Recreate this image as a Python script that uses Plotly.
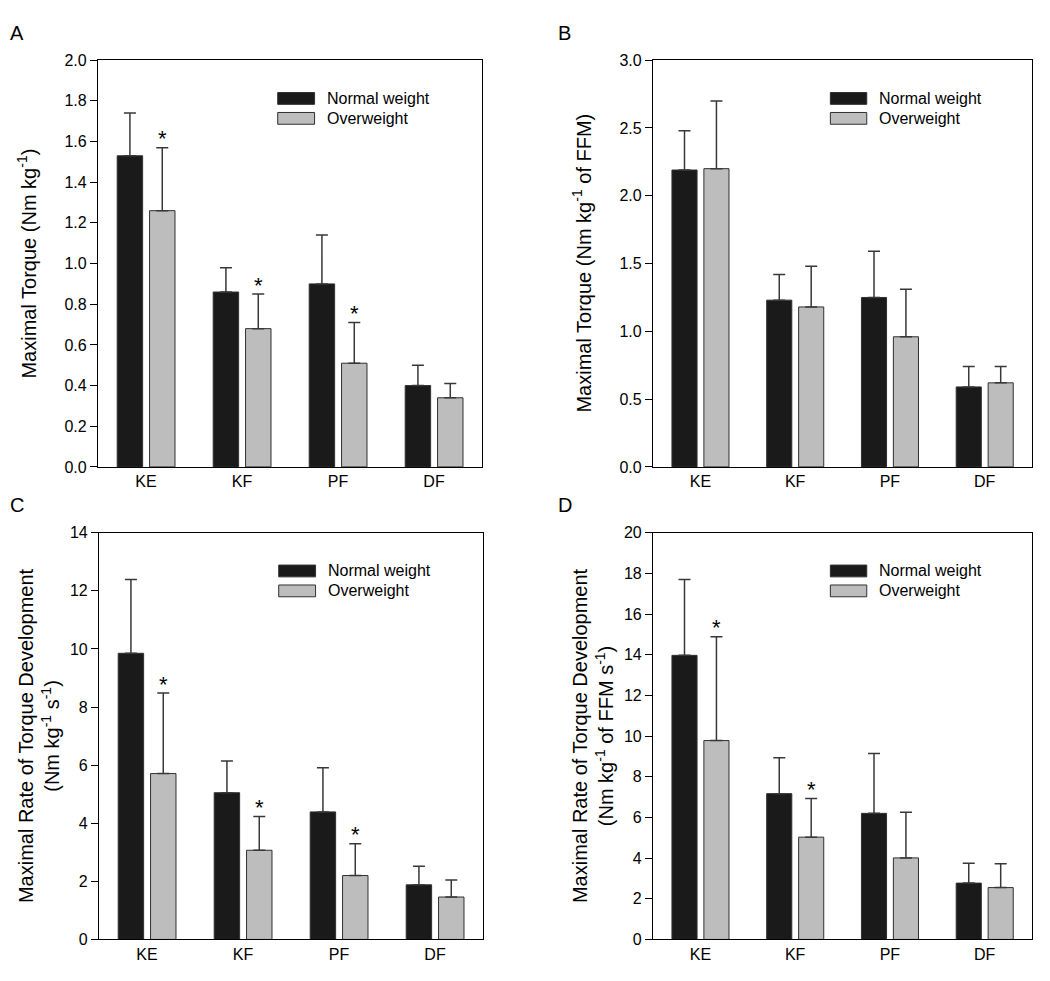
import plotly.graph_objects as go

categories = ["KE", "KF", "PF", "DF"]
series_names = ["Normal weight", "Overweight"]

# Panel A: Maximal torque (Nm kg-1)
a_normal = [1.53, 0.86, 0.90, 0.40]
a_normal_sd = [0.21, 0.12, 0.24, 0.10]
a_over = [1.26, 0.68, 0.51, 0.34]
a_over_sd = [0.31, 0.17, 0.20, 0.07]
a_sig = [True, True, True, False]

# Panel B: Maximal torque (Nm kg-1 of FFM)
b_normal = [2.19, 1.23, 1.25, 0.59]
b_normal_sd = [0.29, 0.19, 0.34, 0.15]
b_over = [2.20, 1.18, 0.96, 0.62]
b_over_sd = [0.50, 0.30, 0.35, 0.12]
b_sig = [False, False, False, False]

# Panel C: Maximal rate of torque development (Nm kg-1 s-1)
c_normal = [9.85, 5.05, 4.39, 1.88]
c_normal_sd = [2.54, 1.09, 1.52, 0.64]
c_over = [5.71, 3.07, 2.20, 1.46]
c_over_sd = [2.77, 1.16, 1.09, 0.59]
c_sig = [True, True, True, False]

# Panel D: Maximal rate of torque development (Nm kg-1 of FFM s-1)
d_normal = [13.97, 7.17, 6.20, 2.77]
d_normal_sd = [3.73, 1.76, 2.94, 0.98]
d_over = [9.78, 5.03, 4.01, 2.55]
d_over_sd = [5.11, 1.90, 2.24, 1.17]
d_sig = [True, True, False, False]

y_ranges = {"A": [0, 2.0], "B": [0, 3.0], "C": [0, 14], "D": [0, 20]}
y_dticks = {"A": 0.2, "B": 0.5, "C": 2, "D": 2}
y_formats = {"A": ".1f", "B": ".1f", "C": "d", "D": "d"}
y_titles = {
    "A": "Maximal Torque (Nm kg<sup>-1</sup>)",
    "B": "Maximal Torque (Nm kg<sup>-1</sup> of FFM)",
    "C": "Maximal Rate of Torque Development<br>(Nm kg<sup>-1</sup> s<sup>-1</sup>)",
    "D": "Maximal Rate of Torque Development<br>(Nm kg<sup>-1</sup> of FFM s<sup>-1</sup>)",
}

panels = [
    ("A", a_normal, a_normal_sd, a_over, a_over_sd, a_sig),
    ("B", b_normal, b_normal_sd, b_over, b_over_sd, b_sig),
    ("C", c_normal, c_normal_sd, c_over, c_over_sd, c_sig),
    ("D", d_normal, d_normal_sd, d_over, d_over_sd, d_sig),
]

# page has an 8px body margin; size the figure to fit inside the window
PAGE_OFF = 8
W, H = 1050 - 2 * PAGE_OFF, 981 - 2 * PAGE_OFF
FONT = "Liberation Sans, Arial, Helvetica, sans-serif"
BLACK = "#1a1a1a"
GRAY = "#bdbdbd"
EDGE = "#303030"


def px_x(v):
    return (v - PAGE_OFF) / W


def px_y(v):
    return 1 - (v - PAGE_OFF) / H


# page-pixel boxes of plot areas (left, right, top, bottom)
boxes = {
    "A": (98, 482, 53, 467),
    "B": (653, 1032, 53, 467),
    "C": (99, 483, 534, 948),
    "D": (653, 1032, 534, 948),
}
title_x = {"A": 27, "B": 582, "C": 39, "D": 593}
letter_pos = {"A": (8, 25), "B": (556, 25), "C": (8, 506), "D": (556, 506)}

BAR_W = 0.265
OFF_N = -0.30
OFF_O = 0.037

fig = go.Figure()
annotations = []
shapes = []

for i, (key, nv, nsd, ov, osd, sig) in enumerate(panels):
    n = i + 1
    xa = "x" if n == 1 else f"x{n}"
    ya = "y" if n == 1 else f"y{n}"
    l, r, t, b = boxes[key]
    fig.add_trace(go.Bar(
        x=categories, y=nv, name=series_names[0], xaxis=xa, yaxis=ya,
        width=BAR_W, offset=OFF_N, showlegend=False,
        marker=dict(color=BLACK, line=dict(color=EDGE, width=1)),
        error_y=dict(type="data", array=nsd, arrayminus=[0] * len(nsd), symmetric=False,
                     color="#383838", thickness=1.5, width=6),
    ))
    fig.add_trace(go.Bar(
        x=categories, y=ov, name=series_names[1], xaxis=xa, yaxis=ya,
        width=BAR_W, offset=OFF_O, showlegend=False,
        marker=dict(color=GRAY, line=dict(color=EDGE, width=1)),
        error_y=dict(type="data", array=osd, arrayminus=[0] * len(osd), symmetric=False,
                     color="#383838", thickness=1.5, width=6),
    ))
    axis_common = dict(showline=True, mirror=True, linecolor="black", linewidth=1.2,
                       showgrid=False, zeroline=False,
                       tickfont=dict(size=16, color="black", family=FONT))
    fig.update_layout(**{
        ("xaxis" if n == 1 else f"xaxis{n}"): dict(
            domain=[px_x(l), px_x(r)], anchor=ya, type="category",
            range=[-0.5, len(categories) - 0.5], ticks="", **axis_common),
        ("yaxis" if n == 1 else f"yaxis{n}"): dict(
            domain=[px_y(b), px_y(t)], anchor=xa, range=y_ranges[key],
            dtick=y_dticks[key], tickformat=y_formats[key], ticks="outside",
            ticklen=7, tickwidth=1.2, tickcolor="black", **axis_common),
    })
    # significance asterisks
    for j, s in enumerate(sig):
        if s:
            annotations.append(dict(
                x=j + OFF_O + BAR_W / 2, y=ov[j] + osd[j], xref=xa, yref=ya,
                text="*", showarrow=False, yanchor="middle", yshift=9,
                font=dict(size=22, color="black", family=FONT)))
    # legend (drawn)
    xd = f"{xa} domain"
    yd = f"{ya} domain"
    for k, (col, yc) in enumerate([(BLACK, 0.906), (GRAY, 0.857)]):
        shapes.append(dict(type="rect", xref=xd, yref=yd, x0=0.468, x1=0.564,
                           y0=yc - 0.0145, y1=yc + 0.0145,
                           fillcolor=col, line=dict(color=EDGE, width=1)))
        annotations.append(dict(x=0.590, y=yc, xref=xd, yref=yd, text=series_names[k],
                                showarrow=False, xanchor="left", yanchor="middle",
                                font=dict(size=16, color="black", family=FONT)))
    # y-axis title
    annotations.append(dict(x=px_x(title_x[key]), y=0.5, xref="paper", yref=yd,
                            text=y_titles[key], textangle=-90, showarrow=False,
                            xanchor="center", yanchor="middle",
                            font=dict(size=20, color="black", family=FONT)))
    # panel letter
    lx, ly = letter_pos[key]
    annotations.append(dict(x=px_x(lx), y=px_y(ly), xref="paper", yref="paper",
                            text=key, showarrow=False, xanchor="left", yanchor="middle",
                            font=dict(size=20, color="black", family=FONT)))

fig.update_layout(
    width=W, height=H, margin=dict(l=0, r=0, t=0, b=0),
    paper_bgcolor="white", plot_bgcolor="white", barmode="overlay",
    font=dict(family=FONT, color="black"),
    annotations=annotations, shapes=shapes,
)

fig.write_html("out.html")
